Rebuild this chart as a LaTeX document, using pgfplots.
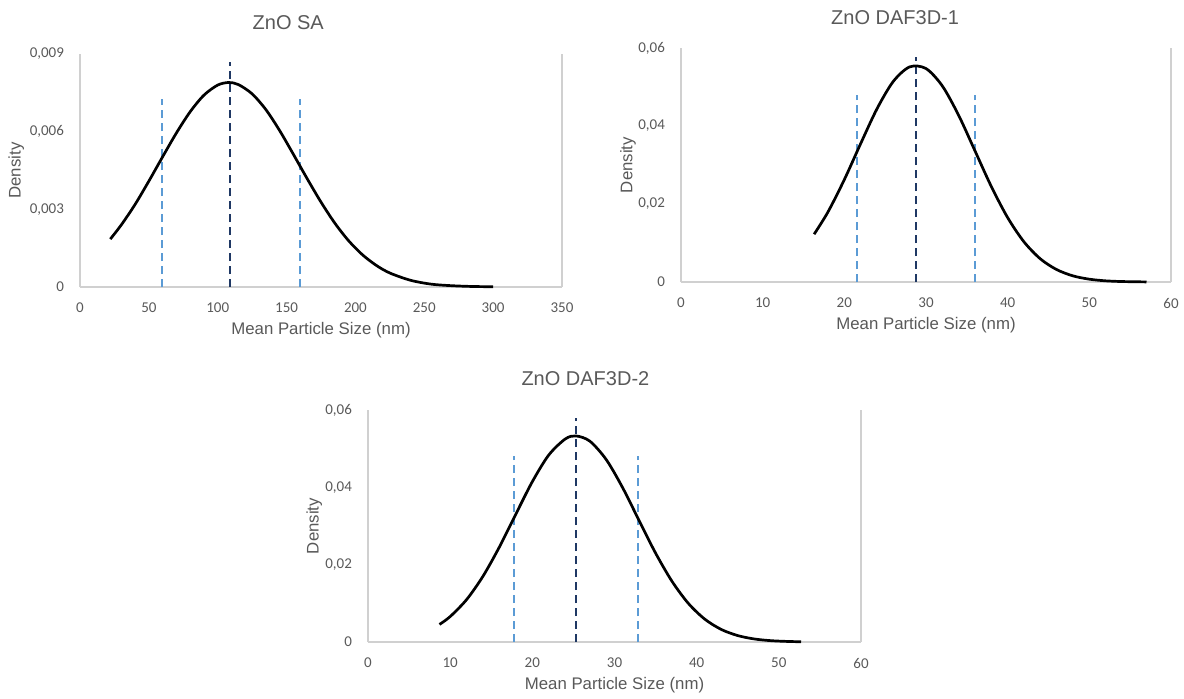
\documentclass[border=0pt]{standalone}
\usepackage{pgfplots}
\pgfplotsset{compat=1.18}
\usepackage{fontspec}
\setmainfont{Liberation Sans}
\newfontfamily\carlito{Carlito}
\definecolor{txt}{HTML}{595959}
\definecolor{navy}{HTML}{1F3864}
\definecolor{lblue}{HTML}{5B9BD5}
\definecolor{axgray}{HTML}{D0D0D0}
\pgfplotsset{zstyle/.style={
  scale only axis, anchor=south west,
  axis x line=bottom, axis y line=left,
  axis line style={-, draw=axgray, line width=0.6pt},
  major tick length=0pt, tick style={draw=none},
  tick label style={font=\carlito\fontsize{7.5}{8}\selectfont, text=txt},
  /pgf/number format/assume math mode=true,
  scaled y ticks=false,
  xlabel={Mean Particle Size (nm)}, ylabel={Density},
  label style={font=\fontsize{8.4}{10}\selectfont, text=txt},
  xlabel style={at={(axis description cs:0.5,-0.185)}, anchor=center},
  yticklabel style={xshift=-4.5pt},
  xticklabel style={yshift=-4.5pt},
  clip=false,
  curve/.style={black, line width=1.35pt, smooth, no marks},
  mline/.style={navy, line width=1pt, dash pattern=on 4pt off 2.5pt, no marks},
  sline/.style={lblue, line width=1pt, dash pattern=on 4pt off 2.5pt, no marks},
}}
\begin{document}
\begin{tikzpicture}
\path[use as bounding box] (0,0) rectangle (592pt,349pt);
% ZnO SA
\begin{axis}[zstyle, at={(40pt,205.5pt)}, width=241pt, height=116.5pt,
  xmin=0, xmax=350, ymin=0, ymax=0.009,
  xtick={0,50,...,350}, ytick={0,0.003,0.006,0.009},
  yticklabel style={/pgf/number format/.cd, fixed, use comma, precision=3},
  ylabel style={at={(axis description cs:-0.132,0.5)}, anchor=center}]
\addplot[sline] coordinates {(59.5,0) (59.5,0.00725)};
\addplot[sline] coordinates {(159.5,0) (159.5,0.00725)};
\addplot[mline] coordinates {(109,0) (109,0.0087)};
\addplot[curve] coordinates {
(22,0.00185) (30,0.00240) (40,0.00319) (50,0.00409) (60,0.00503) (70,0.00595)
(80,0.00677) (90,0.00741) (100,0.00780) (108,0.00790) (115,0.00782) (125,0.00746)
(135,0.00685) (145,0.00604) (155,0.00512) (165,0.00418) (175,0.00328) (185,0.00247)
(195,0.00179) (205,0.00125) (215,0.00084) (225,0.00054) (240,0.00026) (255,0.00011)
(270,0.00005) (285,0.00002) (300,0.00001)};
\node[font=\fontsize{10}{12}\selectfont, text=txt] at (axis description cs:0.432,1.133) {ZnO SA};
\draw[axgray, line width=0.6pt] (rel axis cs:1,0) -- (rel axis cs:1,1);
\end{axis}
% ZnO DAF3D-1
\begin{axis}[zstyle, at={(340.5pt,208pt)}, width=245pt, height=117pt,
  xmin=0, xmax=60, ymin=0, ymax=0.06,
  xtick={0,10,...,60}, ytick={0,0.02,0.04,0.06},
  yticklabel style={/pgf/number format/.cd, fixed, use comma, precision=2},
  ylabel style={at={(axis description cs:-0.108,0.5)}, anchor=center}]
\addplot[sline] coordinates {(21.6,0) (21.6,0.048)};
\addplot[sline] coordinates {(36.05,0) (36.05,0.048)};
\addplot[mline] coordinates {(28.8,0) (28.8,0.0577)};
\addplot[curve] coordinates {
(16.3,0.01225) (18,0.01797) (20,0.02625) (22,0.03549) (24,0.04442) (26,0.05145)
(28,0.05516) (30,0.05473) (32,0.05027) (34,0.04273) (36,0.03362)
(38,0.02448) (40,0.01650) (42,0.01029) (44,0.00594) (46,0.00318) (48,0.00157)
(50,0.00072) (52,0.00030) (54,0.00012) (57,0.00002)};
\node[font=\fontsize{10}{12}\selectfont, text=txt] at (axis description cs:0.437,1.128) {ZnO DAF3D-1};
\draw[axgray, line width=0.6pt] (rel axis cs:1,0) -- (rel axis cs:1,1);
\end{axis}
% ZnO DAF3D-2
\begin{axis}[zstyle, at={(184pt,28pt)}, width=246.5pt, height=116pt,
  xmin=0, xmax=60, ymin=0, ymax=0.06,
  xtick={0,10,...,60}, ytick={0,0.02,0.04,0.06},
  yticklabel style={/pgf/number format/.cd, fixed, use comma, precision=2},
  ylabel style={at={(axis description cs:-0.109,0.5)}, anchor=center}]
\addplot[sline] coordinates {(17.8,0) (17.8,0.0481)};
\addplot[sline] coordinates {(32.8,0) (32.8,0.0481)};
\addplot[mline] coordinates {(25.3,0) (25.3,0.058)};
\addplot[curve] coordinates {
(8.7,0.00454) (10,0.00658) (12,0.01097) (14,0.01703) (16,0.02461) (18,0.03311)
(20,0.04147) (22,0.04836) (24,0.0525) (25.3,0.0533) (27,0.05194) (29,0.04716)
(31,0.03987) (33,0.03138) (35,0.02299) (37,0.01569) (39,0.00996) (41,0.00589)
(43,0.00324) (45,0.00166) (47,0.00079) (49,0.00035) (51,0.00015) (52.7,0.00006)};
\node[font=\fontsize{10}{12}\selectfont, text=txt] at (axis description cs:0.441,1.134) {ZnO DAF3D-2};
\draw[axgray, line width=0.6pt] (rel axis cs:1,0) -- (rel axis cs:1,1);
\end{axis}
\end{tikzpicture}
\end{document}
